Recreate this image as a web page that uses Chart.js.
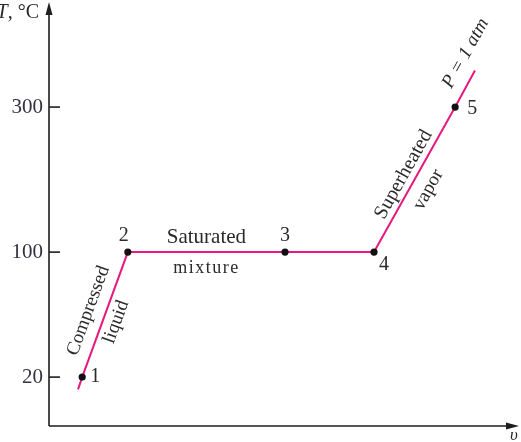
<!DOCTYPE html>
<html>
<head>
<meta charset="utf-8">
<script src="https://cdn.jsdelivr.net/npm/chart.js@4.4.1/dist/chart.umd.min.js"></script>
<style>
  html, body { margin: 0; padding: 0; background: #fff; }
  #wrap { width: 521px; height: 442px; }
</style>
</head>
<body>
<div id="wrap"><canvas id="tvChart" width="521" height="442"></canvas></div>
<script>
// T-v diagram of water heated at P = 1 atm (schematic, v axis has no ticks)
const stateNames = ['1', '2', '3', '4', '5'];
const stateVolume = [0.72, 1.71, 5.12, 7.05, 8.81];
const stateTemp = [20, 100, 100, 100, 300];
const lineVolume = [0.63, 0.72, 1.71, 5.12, 7.05, 8.81, 9.24];
const lineTemp = [15, 20, 100, 100, 100, 300, 337];
const tempTicks = [20, 100, 300];

// the temperature axis is not to scale: piecewise stops
const yStops = [0, 20, 100, 300, 400];
const yStopFrac = [0, 0.117, 0.416, 0.763, 1];

class BrokenScale extends Chart.LinearScale {
  getPixelForValue(v) {
    let f = 0;
    for (let i = 1; i < yStops.length; i++) {
      if (v <= yStops[i] || i === yStops.length - 1) {
        const t = (v - yStops[i - 1]) / (yStops[i] - yStops[i - 1]);
        f = yStopFrac[i - 1] + t * (yStopFrac[i] - yStopFrac[i - 1]);
        break;
      }
    }
    return this.bottom - f * (this.bottom - this.top);
  }
  getValueForPixel(p) {
    const f = (this.bottom - p) / (this.bottom - this.top);
    for (let i = 1; i < yStopFrac.length; i++) {
      if (f <= yStopFrac[i] || i === yStopFrac.length - 1) {
        const t = (f - yStopFrac[i - 1]) / (yStopFrac[i] - yStopFrac[i - 1]);
        return yStops[i - 1] + t * (yStops[i] - yStops[i - 1]);
      }
    }
  }
}
BrokenScale.id = 'broken';
BrokenScale.defaults = Chart.LinearScale.defaults;
Chart.register(BrokenScale);

const SERIF = '"Liberation Serif", "Times New Roman", serif';
const INK = '#2a2a2a';

function rotText(ctx, text, p, q, along, perp, font) {
  const ang = Math.atan2(q.y - p.y, q.x - p.x);
  ctx.save();
  ctx.translate((p.x + q.x) / 2, (p.y + q.y) / 2);
  ctx.rotate(ang);
  ctx.font = font;
  ctx.textAlign = 'center';
  ctx.textBaseline = 'middle';
  ctx.fillText(text, along, perp);
  ctx.restore();
}

const sketchAxes = {
  id: 'sketchAxes',
  afterDatasetsDraw(chart) {
    const { ctx, chartArea: a, scales: { y } } = chart;
    ctx.save();
    ctx.strokeStyle = '#1e1e1e';
    ctx.fillStyle = '#1e1e1e';
    ctx.lineWidth = 1.6;

    // axes with arrows
    ctx.beginPath();
    ctx.moveTo(a.left, a.bottom);
    ctx.lineTo(a.left, 8);
    ctx.moveTo(a.left, a.bottom);
    ctx.lineTo(512, a.bottom);
    ctx.stroke();
    ctx.beginPath();
    ctx.moveTo(a.left, 2);
    ctx.lineTo(a.left - 3.5, 15);
    ctx.lineTo(a.left + 3.5, 15);
    ctx.closePath();
    ctx.fill();
    ctx.beginPath();
    ctx.moveTo(519, a.bottom);
    ctx.lineTo(506, a.bottom - 3.5);
    ctx.lineTo(506, a.bottom + 3.5);
    ctx.closePath();
    ctx.fill();

    // tick marks point into the plot
    tempTicks.forEach(function (t) {
      const py = y.getPixelForValue(t);
      ctx.beginPath();
      ctx.moveTo(a.left, py);
      ctx.lineTo(a.left + 11, py);
      ctx.stroke();
    });

    // axis titles
    ctx.fillStyle = INK;
    ctx.textBaseline = 'middle';
    ctx.font = '20px ' + SERIF;
    ctx.textAlign = 'right';
    ctx.fillText(', \u00B0C', 39, 13);
    const w = ctx.measureText(', \u00B0C').width;
    ctx.font = 'italic 20px ' + SERIF;
    ctx.fillText('T', 39 - w, 13);
    ctx.textAlign = 'left';
    ctx.font = 'italic 17px ' + SERIF;
    ctx.fillText('\u03C5', 510, 436);

    // state numbers
    const pts = chart.getDatasetMeta(1).data;
    const offs = [[13, 0], [-4, -16], [0, -16], [10, 13], [17, 2]];
    ctx.font = '20px ' + SERIF;
    ctx.textAlign = 'center';
    stateNames.forEach(function (n, i) {
      ctx.fillText(n, pts[i].x + offs[i][0], pts[i].y + offs[i][1]);
    });

    // region labels
    const mx = (pts[1].x + pts[2].x) / 2;
    ctx.font = '21px ' + SERIF;
    ctx.fillText('Saturated', mx, pts[1].y - 15);
    ctx.save();
    ctx.letterSpacing = '1.5px';
    ctx.font = '18px ' + SERIF;
    ctx.fillText('mixture', mx, pts[1].y + 16);
    ctx.restore();

    rotText(ctx, 'Compressed', pts[0], pts[1], -2, -17, '19px ' + SERIF);
    rotText(ctx, 'liquid', pts[0], pts[1], -3, 13, '19px ' + SERIF);
    rotText(ctx, 'Superheated', pts[3], pts[4], -1, -12, '20px ' + SERIF);
    rotText(ctx, 'vapor', pts[3], pts[4], -2, 17, '19px ' + SERIF);

    // P = 1 atm, past state 5
    const ang = Math.atan2(pts[4].y - pts[3].y, pts[4].x - pts[3].x);
    ctx.save();
    ctx.translate(pts[4].x, pts[4].y);
    ctx.rotate(ang);
    ctx.font = 'italic 19px ' + SERIF;
    ctx.fillText('P = 1 atm', 52, -17);
    ctx.restore();

    ctx.restore();
  }
};

const ctx = document.getElementById('tvChart').getContext('2d');

new Chart(ctx, {
  type: 'line',
  data: {
    datasets: [{
      data: lineVolume.map(function (v, i) { return { x: v, y: lineTemp[i] }; }),
      borderColor: '#e6197f',
      borderWidth: 2,
      pointRadius: 0,
      tension: 0,
      order: 2
    },
    {
      data: stateVolume.map(function (v, i) { return { x: v, y: stateTemp[i] }; }),
      showLine: false,
      pointRadius: 3.6,
      pointBackgroundColor: '#111',
      pointBorderWidth: 0,
      order: 1
    }]
  },
  options: {
    responsive: false,
    animation: false,
    devicePixelRatio: 1,
    layout: { padding: { top: 8, right: 11, bottom: 16, left: 0 } },
    plugins: { legend: { display: false }, tooltip: { enabled: false } },
    scales: {
      x: { type: 'linear', display: false, min: 0, max: 10 },
      y: {
        type: 'broken',
        min: 0,
        max: 400,
        grid: { display: false, drawTicks: false },
        border: { display: false },
        afterBuildTicks: function (s) { s.ticks = tempTicks.map(function (v) { return { value: v }; }); },
        afterFit: function (s) { s.width = 49; s.paddingTop = 0; s.paddingBottom = 0; },
        ticks: { padding: 6, color: '#333340', font: { family: SERIF, size: 21 } }
      }
    }
  },
  plugins: [sketchAxes]
});
</script>
</body>
</html>
